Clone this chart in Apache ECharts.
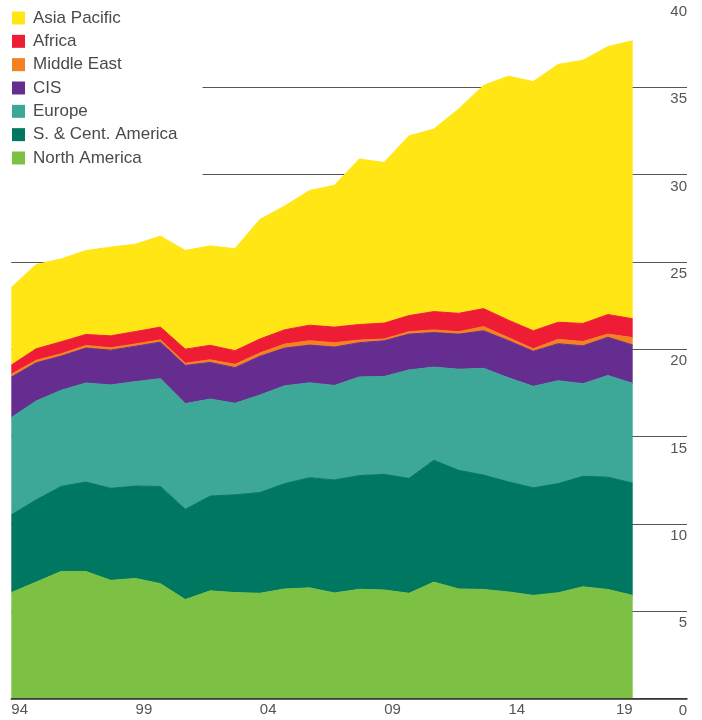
<!DOCTYPE html>
<html>
<head>
<meta charset="utf-8">
<script src="https://cdn.jsdelivr.net/npm/echarts@6/dist/echarts.min.js"></script>
<style>
  html, body { margin: 0; padding: 0; background: #fff; }
  #chart { width: 702px; height: 720px; }
</style>
</head>
<body>
<div id="chart"></div>
<script>
// Years on the horizontal axis (every fifth one is labelled)
const years = ['1994', '1995', '1996', '1997', '1998', '1999', '2000', '2001', '2002', '2003', '2004', '2005', '2006',
               '2007', '2008', '2009', '2010', '2011', '2012', '2013', '2014', '2015', '2016', '2017', '2018', '2019'];

// Regional values, stacked bottom to top
const northAmerica = [6.07, 6.67, 7.28, 7.28, 6.77, 6.88, 6.58, 5.67, 6.17, 6.07, 6.03, 6.28, 6.34,
                      6.05, 6.26, 6.22, 6.03, 6.67, 6.28, 6.25, 6.11, 5.91, 6.06, 6.40, 6.25, 5.91];
const southCentralAmerica = [4.45, 4.71, 4.87, 5.12, 5.27, 5.29, 5.57, 5.17, 5.43, 5.60, 5.77, 6.03, 6.31,
                             6.47, 6.51, 6.62, 6.58, 6.98, 6.79, 6.55, 6.30, 6.16, 6.25, 6.33, 6.43, 6.43];
const europe = [5.57, 5.66, 5.50, 5.67, 5.92, 5.98, 6.17, 6.05, 5.55, 5.24, 5.58, 5.60, 5.43,
                5.41, 5.65, 5.60, 6.21, 5.33, 5.79, 6.11, 5.96, 5.81, 5.89, 5.30, 5.82, 5.71];
const cis = [2.32, 2.19, 1.96, 2.00, 1.99, 2.03, 2.09, 2.19, 2.10, 2.04, 2.22, 2.16, 2.16,
             2.20, 1.96, 2.05, 2.05, 1.98, 2.01, 2.15, 2.13, 2.01, 2.12, 2.17, 2.19, 2.20];
const middleEast = [0.16, 0.14, 0.13, 0.15, 0.14, 0.13, 0.13, 0.12, 0.15, 0.19, 0.19, 0.23, 0.25,
                    0.25, 0.15, 0.10, 0.14, 0.15, 0.14, 0.24, 0.17, 0.14, 0.25, 0.25, 0.18, 0.42];
const africa = [0.53, 0.66, 0.69, 0.63, 0.68, 0.71, 0.73, 0.81, 0.83, 0.78, 0.80, 0.82, 0.89,
                0.89, 0.89, 0.91, 0.92, 1.05, 1.05, 1.03, 1.00, 1.03, 0.98, 1.03, 1.12, 1.08];
const asiaPacific = [4.44, 4.82, 4.74, 4.80, 5.08, 5.00, 5.21, 5.65, 5.69, 5.84, 6.84, 7.09, 7.71,
                     8.12, 9.47, 9.20, 10.29, 10.45, 11.70, 12.78, 13.97, 14.27, 14.76, 15.07, 15.34, 15.92];

const FONT = '"Liberation Sans", Arial, sans-serif';

const regions = [
  { name: 'North America',      values: northAmerica,        color: '#7CC143' },
  { name: 'S. & Cent. America', values: southCentralAmerica, color: '#007760' },
  { name: 'Europe',             values: europe,              color: '#3EA898' },
  { name: 'CIS',                values: cis,                 color: '#662D91' },
  { name: 'Middle East',        values: middleEast,          color: '#F58220' },
  { name: 'Africa',             values: africa,              color: '#EE1C35' },
  { name: 'Asia Pacific',       values: asiaPacific,         color: '#FFE614' }
];

const chart = echarts.init(document.getElementById('chart'), null, { renderer: 'canvas' });

chart.setOption({
  animation: false,
  backgroundColor: '#fff',
  // grid 0 holds the stacked areas; grid 1 is wider and carries the value scale and baseline
  grid: [
    { left: 11.3, right: 69.3, top: -1.9, bottom: 21.4, containLabel: false },
    { left: 11.3, right: 15, top: -1.9, bottom: 21.4, containLabel: false }
  ],
  legend: {
    orient: 'vertical',
    left: 0,
    top: 0,
    padding: [9.5, 25, 12, 12],
    backgroundColor: '#fff',
    icon: 'rect',
    itemWidth: 13,
    itemHeight: 13,
    itemGap: 6.33,
    selectedMode: false,
    textStyle: { fontFamily: FONT, fontSize: 17, color: '#4a4a4a', padding: [0, 0, 0, 3] },
    data: regions.map(r => r.name).reverse()
  },
  xAxis: [
    {
      gridIndex: 0,
      type: 'category',
      data: years,
      boundaryGap: false,
      axisLine: { show: false },
      axisTick: { show: false },
      splitLine: { show: false },
      axisLabel: {
        interval: 4,
        formatter: v => v.slice(2),
        align: 'left',
        alignMaxLabel: 'right',
        margin: 4,
        fontFamily: FONT,
        fontSize: 15,
        color: '#555'
      }
    },
    {
      gridIndex: 1,
      type: 'value',
      min: 0,
      max: 1,
      z: 3,
      axisLine: { show: true, lineStyle: { color: '#2b2b2b', width: 1.5 } },
      axisTick: { show: false },
      axisLabel: { show: false },
      splitLine: { show: false }
    }
  ],
  yAxis: [
    {
      gridIndex: 0,
      type: 'value',
      min: 0,
      max: 40,
      show: false
    },
    {
      gridIndex: 1,
      type: 'value',
      position: 'right',
      min: 0,
      max: 40,
      interval: 5,
      axisLine: { show: false },
      axisTick: { show: false },
      splitLine: { show: true, showMaxLine: false, lineStyle: { color: '#555', width: 1 } },
      axisLabel: {
        inside: true,
        margin: 0,
        align: 'right',
        verticalAlign: 'top',
        padding: [4.5, 0, 0, 0],
        fontFamily: FONT,
        fontSize: 15,
        color: '#555'
      }
    }
  ],
  series: regions.map(r => ({
    name: r.name,
    type: 'line',
    xAxisIndex: 0,
    yAxisIndex: 0,
    stack: 'total',
    symbol: 'none',
    smooth: false,
    color: r.color,
    lineStyle: { width: 1, color: r.color },
    areaStyle: { color: r.color, opacity: 1 },
    emphasis: { disabled: true },
    data: r.values
  }))
});
</script>
</body>
</html>
